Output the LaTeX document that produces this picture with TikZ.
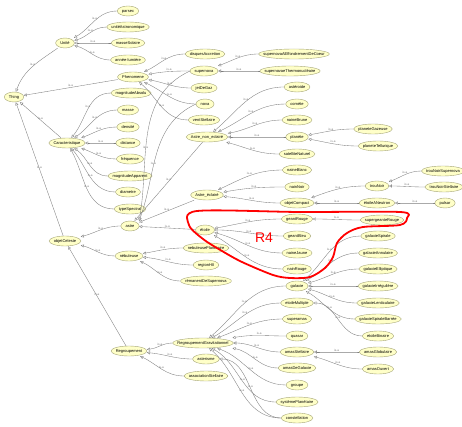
\documentclass[tikz,border=0pt]{standalone}
\usepackage{fontspec}
\setmainfont{Liberation Sans}
\usetikzlibrary{arrows.meta,calc}
\pgfdeclarelayer{background}
\pgfsetlayers{background,main}
\definecolor{nodefill}{RGB}{255,255,200}
\definecolor{nodeline}{RGB}{165,165,120}
\definecolor{edgegray}{RGB}{125,125,125}
\newcommand\onto[3]{%
  \node[cls] (#1) at (#2) {#3};
  \begin{pgfonlayer}{background}
  \path[clsshape] let \p1=($(#1.east)-(#1.west)$) in (#1.center) ellipse [x radius=0.5*\x1, y radius=5pt];
  \end{pgfonlayer}}
\begin{document}
\begin{tikzpicture}[x=1pt,y=-1pt,
  cls/.style={font=\fontsize{4}{4.5}\selectfont, inner xsep=4.5pt, inner ysep=0pt, minimum height=10pt, text height=3pt, text depth=0.9pt},
  clsshape/.style={fill=nodefill, draw=nodeline, line width=0.4pt},
  isa/.style={draw=edgegray, line width=0.35pt, -{Triangle[open,length=3pt,width=3pt,fill=white]}},
  lab/.style={font=\fontsize{3}{3}\selectfont, text=edgegray, inner sep=0.6pt, above},
  loop/.style={draw=red, line width=1.8pt, line join=round}]
\useasboundingbox (0,0) rectangle (462,427);
\begin{pgfonlayer}{background}
\fill[white] (0,0) rectangle (462,427);
\end{pgfonlayer}

% ---- classes
\onto{Thing}{14,97}{Thing}
\onto{Unite}{65,43}{Unité}
\onto{parsec}{128,11}{parsec}
\onto{uniteAstro}{128,27}{unitéAstronomique}
\onto{masseSolaire}{128,43}{masseSolaire}
\onto{anneeLumiere}{128,60}{année-lumière}
\onto{Phenomene}{133,77}{Phenomene}
\onto{magAbs}{131,93}{magnitudeAbsolu}
\onto{masse}{128,110}{masse}
\onto{densite}{128,127}{densité}
\onto{distance}{128,143}{distance}
\onto{frequence}{130,159}{fréquence}
\onto{magApp}{130,176}{magnitudeApparent}
\onto{diametre}{128,192}{diametre}
\onto{typeSpectral}{130,209}{typeSpectral}
\onto{Caracteristique}{67,143}{Caracteristique}
\onto{astre}{130,226}{astre}
\onto{objetCeleste}{65,241}{objetCeleste}
\onto{nebuleuse}{129,256}{nébuleuse}
\onto{Regroupement}{129,351}{Regroupement}
\onto{disques}{205,54}{disquesAccretion}
\onto{supernova}{204,71}{supernova}
\onto{jetDeGaz}{204,88}{jetDeGaz}
\onto{nova}{205,104}{nova}
\onto{ventStellaire}{204,120}{ventStellaire}
\onto{snEffond}{294,54}{supernovaAEffondrementDeCoeur}
\onto{snThermo}{290,71}{supernovaeThermonucléaire}
\onto{AstreNon}{207,137}{Astre\_non\_eclairé}
\onto{asteroide}{297,87}{astéroide}
\onto{comete}{297,104}{comète}
\onto{naineBrune}{297,120}{naineBrune}
\onto{planete}{297,137}{planète}
\onto{satellite}{297,154}{satelliteNaturel}
\onto{planeteGaz}{373,129}{planeteGazeuse}
\onto{planeteTell}{378,146}{planeteTellurique}
\onto{AstreEcl}{207,195}{Astre\_éclairé}
\onto{naineBlanc}{297,170}{naineBlanc}
\onto{nainNoir}{297,187}{nainNoir}
\onto{objetCompact}{297,203}{objetCompact}
\onto{trouNoir}{377,186}{trouNoir}
\onto{etoileNeutron}{377,203}{étoileANeutron}
\onto{trouNoirSN}{443,171}{trouNoirSupernova}
\onto{trouNoirSt}{444,187}{trouNoirStellaire}
\onto{pulsar}{445,203}{pulsar}
\onto{etoile}{205,230}{étoile}
\onto{geantRouge}{297,219}{geantRouge}
\onto{geantBleu}{297,236}{geantBleu}
\onto{naineJaune}{297,253}{naineJaune}
\onto{nainRouge}{297,269}{nainRouge}
\onto{supergeante}{382,220}{supergeanteRouge}
\onto{nebPlan}{206,248}{nebuleusePlanetaire}
\onto{regionHII}{206,265}{regionHII}
\onto{remanent}{206,281}{rémanentDeSupernova}
\onto{galaxie}{297,286}{galaxie}
\onto{galSpirale}{378,236}{galaxieSpirale}
\onto{galAnnul}{378,253}{galaxieAnnulaire}
\onto{galEllip}{378,269}{galaxieElliptique}
\onto{galIrr}{378,286}{galaxieIrrégulière}
\onto{galLent}{378,303}{galaxieLenticulaire}
\onto{galSpirBar}{378,319}{galaxieSpiraleBarrée}
\onto{etoileBinaire}{378,336}{etoileBinaire}
\onto{etoileMultiple}{297,303}{etoileMultiple}
\onto{superamas}{297,319}{superamas}
\onto{quasar}{297,336}{quasar}
\onto{amasStellaire}{297,352}{amasStellaire}
\onto{amasDeGalaxie}{297,368}{amasDeGalaxie}
\onto{groupe}{297,385}{groupe}
\onto{systPlan}{297,402}{systèmePlanétaire}
\onto{constellation}{297,418}{constellation}
\onto{amasGlob}{378,352}{amasGlobulaire}
\onto{amasOuvert}{378,369}{amasOuvert}
\onto{RegGrav}{203,343}{RegroupementGravitationnel}
\onto{asterisme}{206,359}{asterisme}
\onto{assocStel}{206,376}{associationStellaire}

% ---- is-a connectors (child -> parent), fan curves
\foreach \c/\p/\i in {
  parsec/Unite/30, uniteAstro/Unite/15, masseSolaire/Unite/0, anneeLumiere/Unite/-15,
  disques/Phenomene/25, supernova/Phenomene/10, jetDeGaz/Phenomene/-10, nova/Phenomene/-25, ventStellaire/Phenomene/-40,
  snEffond/supernova/20, snThermo/supernova/0,
  magAbs/Caracteristique/50, masse/Caracteristique/35, densite/Caracteristique/20, distance/Caracteristique/0,
  frequence/Caracteristique/-20, magApp/Caracteristique/-35, diametre/Caracteristique/-50, typeSpectral/Caracteristique/-60,
  astre/objetCeleste/15, nebuleuse/objetCeleste/-15,
  asteroide/AstreNon/40, comete/AstreNon/25, naineBrune/AstreNon/10, planete/AstreNon/0, satellite/AstreNon/-15,
  planeteGaz/planete/10, planeteTell/planete/-10,
  naineBlanc/AstreEcl/25, nainNoir/AstreEcl/10, objetCompact/AstreEcl/-5,
  trouNoir/objetCompact/20, etoileNeutron/objetCompact/0,
  trouNoirSN/trouNoir/20, trouNoirSt/trouNoir/0, pulsar/etoileNeutron/0,
  geantRouge/etoile/10, geantBleu/etoile/0, naineJaune/etoile/-15, nainRouge/etoile/-30,
  supergeante/geantRouge/0,
  nebPlan/nebuleuse/10, regionHII/nebuleuse/-5, remanent/nebuleuse/-25,
  RegGrav/Regroupement/5, asterisme/Regroupement/-5, assocStel/Regroupement/-25,
  galaxie/RegGrav/40, etoileMultiple/RegGrav/30, superamas/RegGrav/20, quasar/RegGrav/10, amasStellaire/RegGrav/0,
  amasDeGalaxie/RegGrav/-10, groupe/RegGrav/-20, systPlan/RegGrav/-30, constellation/RegGrav/-40,
  galSpirale/galaxie/40, galAnnul/galaxie/30, galEllip/galaxie/15, galIrr/galaxie/0, galLent/galaxie/-15, galSpirBar/galaxie/-30,
  etoileBinaire/etoileMultiple/0, amasGlob/amasStellaire/0, amasOuvert/amasStellaire/-15,
  constellation/asterisme/0}
  \draw[isa] (\c) to[out=180,in=\i] node[lab]{is-a} (\p);

% ---- straight / long connectors
\foreach \c/\p in {Phenomene/Thing, Caracteristique/Thing, objetCeleste/Thing,
  Regroupement/objetCeleste, AstreNon/astre, AstreEcl/astre, etoile/astre}
  \draw[isa] (\c) -- node[lab]{is-a} (\p);
\draw[isa] (Unite) to[out=215,in=70] node[lab]{is-a} (Thing);
\draw[isa] (supernova.west) to[out=205,in=80] node[lab,pos=0.6]{is-a} (astre.north east);
\draw[isa] (nova.west) to[out=205,in=70] node[lab,pos=0.6]{is-a} (astre.north east);

% ---- red annotation
\draw[loop] plot[smooth cycle, tension=0.5] coordinates {(197,211) (300,212) (400,212) (407,218) (400,225) (363,227) (347,233) (337,243) (333,257) (325,268) (310,277) (290,278) (273,275) (242,262) (222,251) (203,239) (189,225)};
\node[text=red, font=\fontsize{14}{14}\selectfont, inner sep=0pt] (R4) at (264,238) {R4};
\end{tikzpicture}
\end{document}
